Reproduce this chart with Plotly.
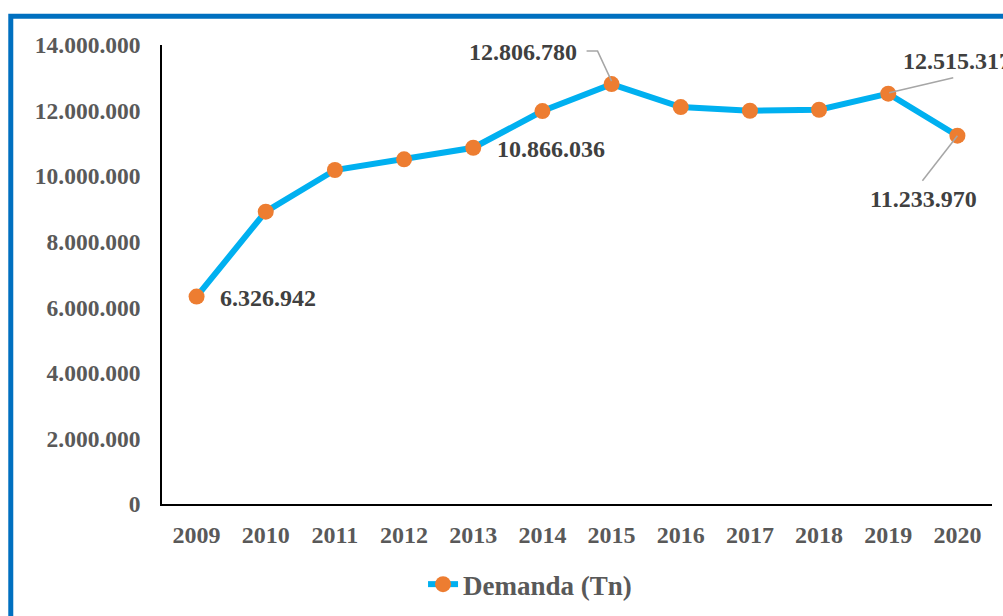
import plotly.graph_objects as go

years = [2009, 2010, 2011, 2012, 2013, 2014, 2015, 2016, 2017, 2018, 2019, 2020]
year_labels = [str(y) for y in years]
demanda = [6326942, 8917000, 10187000, 10513000, 10866036, 11985000,
           12806780, 12107000, 11994000, 12024000, 12515317, 11233970]
y_ticks = [0, 2000000, 4000000, 6000000, 8000000, 10000000, 12000000, 14000000]
series_name = "Demanda (Tn)"

FONT = "Liberation Serif"

def fmt(v):
    return f"{v:,}".replace(",", ".")

fig = go.Figure()
fig.add_trace(go.Scatter(
    x=years, y=demanda, mode="lines+markers", name=series_name,
    line=dict(color="#00B0F0", width=6),
    marker=dict(color="#ED7D31", size=16, line=dict(width=0)),
))

# data labels (index, xanchor, xshift, yshift)
label_spec = [
    (0, "left", 21, -1),
    (4, "left", 22, -1),
    (6, "right", -33, 32),
    (10, "left", 13, 33),
    (11, "center", -34, -63),
]
for i, xa, xs, ys in label_spec:
    fig.add_annotation(
        x=years[i], y=demanda[i], xref="x", yref="y", text=fmt(demanda[i]),
        showarrow=False, xanchor=xa, yanchor="middle", xshift=xs, yshift=ys,
        font=dict(family=FONT, size=24, color="#404040", weight=700),
    )

# leader lines (pixel offsets relative to the data point, y positive up)
leaders = [
    (6, "M-25,33 L-14,33 L0,3"),
    (10, "M1,1 L65,16"),
    (11, "M-35,-45 L0,0"),
]
for i, p in leaders:
    fig.add_shape(
        type="path", xref="x", yref="y", xsizemode="pixel", ysizemode="pixel",
        xanchor=years[i], yanchor=demanda[i], path=p,
        line=dict(color="#A6A6A6", width=1.5), layer="above",
    )

# blue frame of the chart area
fig.add_shape(type="rect", xref="paper", yref="paper",
              x0=-0.1822, x1=1.2, y0=-0.4, y1=1.0627,
              line=dict(color="#0070C0", width=5), layer="below")

fig.update_layout(
    width=1003, height=616,
    margin=dict(l=162, r=11, t=45, b=112, autoexpand=False),
    paper_bgcolor="white", plot_bgcolor="white",
    separators=",.",
    showlegend=True,
    legend=dict(orientation="h", x=0.3145, xanchor="left",
                yref="container", y=0.051, yanchor="middle",
                font=dict(family=FONT, size=27, color="#595959", weight=700)),
    xaxis=dict(range=[2008.5, 2020.5], tickvals=years, ticktext=year_labels,
               showgrid=False, zeroline=False, showline=True, linecolor="black",
               linewidth=1.5, ticks="", ticklabelstandoff=8,
               tickfont=dict(family=FONT, size=24, color="#595959", weight=700)),
    yaxis=dict(range=[0, 14000000], tickvals=y_ticks, tickformat=",d",
               showgrid=False, zeroline=False, showline=True, linecolor="black",
               linewidth=1.5, ticks="", ticklabelstandoff=15,
               tickfont=dict(family=FONT, size=23.5, color="#595959", weight=700)),
)

fig.write_html("out.html", config={"displayModeBar": False},
               post_script="document.body.style.margin='0';document.body.style.overflow='hidden';")
